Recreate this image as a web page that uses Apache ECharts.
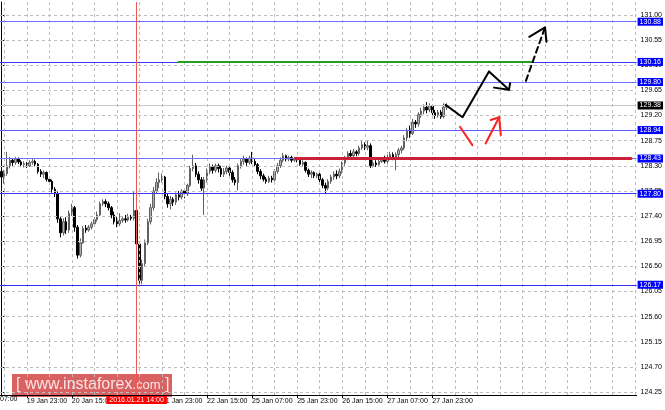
<!DOCTYPE html>
<html><head><meta charset="utf-8">
<script src="https://cdn.jsdelivr.net/npm/echarts@6/dist/echarts.min.js"></script>
<style>html,body{margin:0;padding:0;background:#fff}#c{width:665px;height:410px}</style>
</head><body><div id="c"></div><script>
// ---- data ----
const opens = [
128.20,128.10,128.16,128.30,128.40,128.36,128.42,128.37,128.32,128.34,
128.30,128.36,128.38,128.33,128.20,128.15,128.18,128.06,128.02,127.88,
127.80,127.35,127.10,127.30,127.15,127.45,127.55,127.20,126.70,126.92,
127.18,127.15,127.20,127.26,127.34,127.42,127.62,127.66,127.62,127.55,
127.42,127.30,127.26,127.32,127.35,127.33,127.38,127.36,127.50,126.90,
126.25,126.55,126.92,127.30,127.55,127.85,128.00,128.05,128.10,127.75,
127.62,127.70,127.65,127.78,127.74,127.85,127.80,127.95,128.25,128.30,
128.15,128.05,127.90,128.05,128.20,128.28,128.22,128.30,128.25,128.15,
128.20,128.26,128.18,128.05,128.00,128.30,128.38,128.42,128.36,128.44,
128.38,128.32,128.20,128.12,128.06,128.02,128.08,128.05,128.20,128.30,
128.40,128.48,128.42,128.45,128.40,128.43,128.40,128.33,128.36,128.22,
128.15,128.18,128.12,128.15,128.05,127.95,127.90,128.02,128.10,128.15,
128.12,128.20,128.35,128.45,128.52,128.48,128.55,128.52,128.62,128.68,
128.63,128.66,128.30,128.35,128.32,128.38,128.42,128.38,128.45,128.50,
128.46,128.50,128.58,128.62,128.80,128.92,128.88,129.08,129.05,129.22,
129.28,129.35,129.30,129.38,129.25,129.20,129.26,129.18,129.35];
const closes = [
128.10,128.16,128.30,128.40,128.36,128.42,128.37,128.32,128.34,128.30,
128.36,128.38,128.33,128.20,128.15,128.18,128.06,128.02,127.88,127.80,
127.35,127.10,127.30,127.15,127.45,127.55,127.20,126.70,126.92,127.18,
127.15,127.20,127.26,127.34,127.42,127.62,127.66,127.62,127.55,127.42,
127.30,127.26,127.32,127.35,127.33,127.38,127.36,127.50,126.90,126.25,
126.55,126.92,127.30,127.55,127.85,128.00,128.05,128.10,127.75,127.62,
127.70,127.65,127.78,127.74,127.85,127.80,127.95,128.25,128.30,128.15,
128.05,127.90,128.05,128.20,128.28,128.22,128.30,128.25,128.15,128.20,
128.26,128.18,128.05,128.00,128.30,128.38,128.42,128.36,128.44,128.38,
128.32,128.20,128.12,128.06,128.02,128.08,128.05,128.20,128.30,128.40,
128.48,128.42,128.45,128.40,128.43,128.40,128.33,128.36,128.22,128.15,
128.18,128.12,128.15,128.05,127.95,127.90,128.02,128.10,128.15,128.12,
128.20,128.35,128.45,128.52,128.48,128.55,128.52,128.62,128.68,128.63,
128.66,128.30,128.35,128.32,128.38,128.42,128.38,128.45,128.50,128.46,
128.50,128.58,128.62,128.80,128.92,128.88,129.08,129.05,129.22,129.28,
129.35,129.30,129.38,129.25,129.20,129.26,129.18,129.35,129.38];
const lows = [
128.02,127.98,128.12,128.25,128.30,128.32,128.33,128.28,128.27,128.26,
128.28,128.32,128.29,128.16,128.10,128.08,128.02,127.96,127.82,127.74,
127.28,127.02,127.05,127.08,127.10,127.40,127.12,126.64,126.66,126.90,
127.10,127.12,127.16,127.22,127.30,127.40,127.58,127.56,127.50,127.36,
127.25,127.20,127.22,127.28,127.28,127.30,127.32,127.32,126.85,126.19,
126.18,126.50,126.88,127.25,127.50,127.80,127.90,128.00,127.70,127.55,
127.52,127.58,127.60,127.68,127.70,127.72,127.76,127.92,128.20,128.10,
127.98,127.85,127.42,128.00,128.15,128.16,128.18,128.18,128.10,128.10,
128.15,128.12,128.00,127.95,127.86,128.25,128.32,128.30,128.32,128.33,
128.28,128.15,128.06,128.02,127.98,127.99,128.00,128.02,128.16,128.26,
128.36,128.38,128.38,128.36,128.37,128.36,128.30,128.28,128.18,128.10,
128.08,128.08,128.08,128.00,127.90,127.81,127.86,127.98,128.05,128.06,
128.08,128.16,128.30,128.40,128.44,128.45,128.47,128.48,128.58,128.58,
128.58,128.26,128.27,128.28,128.30,128.35,128.34,128.34,128.40,128.40,
128.22,128.45,128.52,128.58,128.74,128.80,128.85,128.98,129.00,129.16,
129.22,129.24,129.26,129.20,129.14,129.16,129.14,129.15,129.30];
const highs = [
128.26,128.22,128.55,128.46,128.44,128.46,128.45,128.40,128.38,128.37,
128.40,128.42,128.41,128.35,128.24,128.22,128.20,128.10,128.05,127.92,
127.84,127.40,127.36,127.38,127.50,127.62,127.58,127.24,127.00,127.22,
127.24,127.24,127.30,127.38,127.48,127.66,127.70,127.70,127.66,127.58,
127.48,127.40,127.45,127.40,127.42,127.44,127.42,127.85,127.55,126.95,
126.62,126.98,127.35,127.62,127.92,128.08,128.18,128.16,128.12,127.80,
127.76,127.74,127.82,127.85,127.88,127.90,127.98,128.30,128.50,128.35,
128.20,128.10,128.10,128.25,128.34,128.32,128.34,128.34,128.30,128.26,
128.30,128.30,128.22,128.10,128.34,128.42,128.48,128.45,128.48,128.55,
128.42,128.35,128.24,128.16,128.10,128.12,128.12,128.24,128.35,128.45,
128.53,128.50,128.48,128.48,128.46,128.46,128.43,128.40,128.38,128.25,
128.22,128.20,128.18,128.18,128.08,128.00,128.06,128.14,128.20,128.22,
128.25,128.38,128.48,128.56,128.58,128.60,128.58,128.66,128.74,128.72,
128.76,128.70,128.40,128.40,128.42,128.46,128.48,128.50,128.55,128.54,
128.54,128.62,128.66,128.85,128.98,129.02,129.14,129.12,129.26,129.34,
129.40,129.44,129.42,129.40,129.30,129.30,129.30,129.42,129.42];

const yTicks = [124.25,124.70,125.15,125.60,126.05,126.50,126.95,127.40,127.85,128.30,128.75,129.20,129.65,130.10,130.55,131.00];
const levels = [130.88,130.16,129.80,128.94,128.43,127.80,126.17];
const levelColors = ['#6c6cff','#3a3aff','#6c6cff','#5a5aff','#7070ff','#3a3aff','#3030ee'];
const bidPrice = 129.38;
const crossIndex = 48;
const crossLabel = '2016.01.21 14:00';
const greenLine = [[62.8,130.16],[188,130.16]];
const redLine = [[104.4,128.43],[223.5,128.43]];
const blackPath = [[157.7,129.39],[163.7,129.17],[173.1,129.99],[180.2,129.66]];
const blackHead = [[174.9,129.70],[180.2,129.66],[180.6,129.78]];
const dashPath = [[186.2,129.82],[193.0,130.78]];
const dashHead = [[187.4,130.61],[193.0,130.78],[193.5,130.52]];
const redSeg1 = [[162.8,129.00],[167.2,128.67]];
const redSeg2 = [[171.9,128.70],[176.7,129.17]];
const redHead = [[173.7,129.12],[176.7,129.17],[177.3,128.85]];

// ---- categories: hourly bars from 2016-01-19 14:00, weekends skipped ----
const N = 226;
const months = ['Jan','Feb','Mar','Apr','May','Jun','Jul','Aug','Sep','Oct','Nov','Dec'];
const cats = [];
let t = Date.UTC(2016,0,19,14);
while (cats.length < N) {
  const d = new Date(t);
  const wd = d.getUTCDay();
  if (wd !== 0 && wd !== 6) {
    cats.push(d.getUTCDate() + ' ' + months[d.getUTCMonth()] + ' ' + String(d.getUTCHours()).padStart(2,'0') + ':00');
  }
  t += 3600000;
}
const candles = opens.map((o,i)=>[o, closes[i], lows[i], highs[i]]);
const labelShown = (i) => i % 16 === 9 && i < opens.length;

const vGrid = [];
for (let i = 1; i < N; i += 8) vGrid.push({xAxis: i});

const FONT = 'Liberation Sans';
const chart = echarts.init(document.getElementById('c'), null, {renderer:'canvas'});
const seg = (data, color, width, type, z) => ({
  type:'line', xAxisIndex:1, data, symbol:'none', silent:true, z: z||6,
  lineStyle:{color, width, type: type||'solid', cap:'round', join:'round'}
});
chart.setOption({
  animation:false,
  backgroundColor:'#fff',
  grid:{left:0, top:2, width:637, height:393, containLabel:false},
  xAxis:[{
    type:'category', data:cats, boundaryGap:true,
    axisLine:{show:true, lineStyle:{color:'#000', width:1}},
    axisTick:{show:true, interval:(i)=>labelShown(i), alignWithLabel:true, length:3, lineStyle:{color:'#000'}},
    axisLabel:{interval:(i)=>labelShown(i), align:'left', fontSize:7, fontFamily:FONT, color:'#000', margin:3},
    splitLine:{show:false}
  },{
    type:'value', min:-0.5, max:N-0.5, show:false
  }],
  yAxis:{
    type:'value', position:'right', min:124.196, max:131.233,
    axisLine:{show:true, lineStyle:{color:'#000'}},
    axisTick:{show:true, customValues:yTicks, length:3, lineStyle:{color:'#000'}},
    axisLabel:{customValues:yTicks, formatter:(v)=>v.toFixed(2), fontSize:7, fontFamily:FONT, color:'#000', margin:4},
    splitLine:{show:false}
  },
  series:[
    {type:'line', xAxisIndex:1, data:[], silent:true, z:1,
     markLine:{symbol:'none', silent:true, label:{show:false},
       lineStyle:{color:'#bdbdbd', type:[3,3], width:1},
       data:[...yTicks.map(v=>({yAxis:v})), ...vGrid]}},
    {type:'line', xAxisIndex:1, data:[], silent:true, z:2,
     markLine:{symbol:'none', silent:true,
       data:[{yAxis:bidPrice, lineStyle:{color:'#c8c8c8', width:1, type:'solid'},
         label:{show:true, position:'end', formatter:bidPrice.toFixed(2), backgroundColor:'#000', color:'#fff', fontSize:7, fontFamily:FONT, padding:[1,2,0,2], distance:1}}]}},
    {type:'candlestick', data:candles, barWidth:2, z:3,
     itemStyle:{color:'#b0b0b0', borderColor:'#606060', color0:'#000', borderColor0:'#000', borderWidth:1}},
    {type:'line', xAxisIndex:1, data:[], silent:true, z:4,
     markLine:{symbol:'none', silent:true,
       data:levels.map((v,k)=>({yAxis:v, lineStyle:{color:levelColors[k], width:1, type:'solid'},
         label:{show:true, position:'end', formatter:v.toFixed(2), backgroundColor:'#0000ff', color:'#fff', fontSize:7, fontFamily:FONT, padding:[1,2,0,2], distance:1}}))}},
    {type:'line', xAxisIndex:1, data:[], silent:true, z:5,
     markLine:{symbol:'none', silent:true,
       data:[{xAxis:crossIndex, lineStyle:{color:'#ee5555', width:1, type:'solid'},
         label:{show:true, position:'start', formatter:crossLabel, backgroundColor:'#ff0000', color:'#fff', fontSize:7, fontFamily:FONT, padding:[1,3,0,3], distance:1}}]}},
    seg(greenLine,'#22a022',2),
    seg(redLine,'#cc1f3a',3),
    seg(blackPath,'#000',2),
    seg(blackHead,'#000',2),
    seg(dashPath,'#000',2,[6,4]),
    seg(dashHead,'#000',2),
    seg(redSeg1,'#ff2020',2),
    seg(redSeg2,'#ff2020',2),
    seg(redHead,'#ff2020',2)
  ],
  graphic:[
    {type:'text', left:0, top:396, silent:true, z:10,
     style:{text:'07:00', fontSize:7, fontFamily:FONT, fill:'#000'}},
    {type:'group', left:12, top:374, z:20, silent:true, children:[
      {type:'rect', shape:{x:0,y:0,width:160,height:23}, style:{fill:'rgba(206,52,52,0.78)'}},
      {type:'text', x:4, y:1, style:{
        text:'{a|[ www.instaforex}{b|.com}{a| ]}',
        rich:{a:{fontSize:16, fontFamily:FONT, fill:'rgba(255,235,235,0.95)', lineHeight:20},
              b:{fontSize:13, fontFamily:FONT, fill:'rgba(255,235,235,0.95)', lineHeight:20}}
      }}
    ]}
  ]
});
</script></body></html>
